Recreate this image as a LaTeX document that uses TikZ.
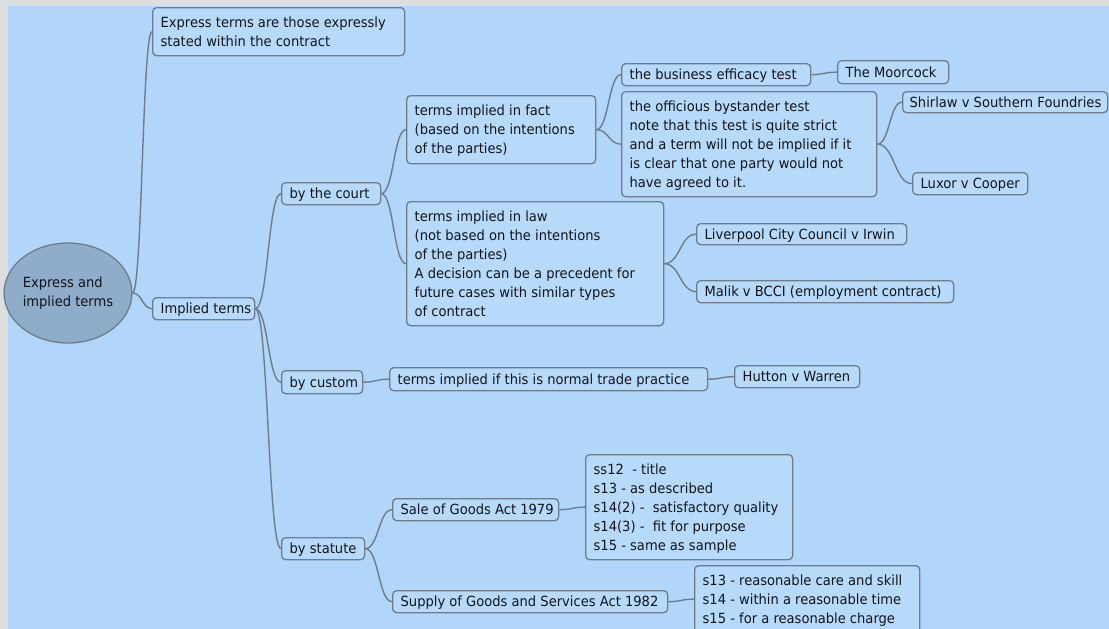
\documentclass[tikz,border=0pt]{standalone}
\usepackage{fontspec}
\setmainfont{DejaVu Sans}[FakeStretch=0.935]
\usetikzlibrary{shapes.geometric,calc}
\definecolor{bgblue}{RGB}{178,214,250}
\definecolor{bggray}{RGB}{222,222,222}
\definecolor{boxfill}{RGB}{184,218,250}
\definecolor{boxline}{RGB}{110,124,140}
\definecolor{rootfill}{RGB}{143,172,202}
\definecolor{txt}{RGB}{18,20,26}
\newcommand{\bx}[2]{\makebox[#1pt][l]{\raisebox{-5pt}[0pt][0pt]{\begin{tabular}{@{}l@{}}#2\end{tabular}}}}
\begin{document}
\begin{tikzpicture}[x=1pt,y=-1pt,
  box/.style={draw=boxline, fill=boxfill, rounded corners=4pt, line width=1.3pt,
    inner xsep=8pt, inner ysep=0pt, anchor=north west, text=txt,
    font=\fontsize{14pt}{19pt}\selectfont},
  rootnode/.style={ellipse, draw=boxline, fill=rootfill, line width=1.3pt,
    inner sep=0pt, minimum width=116pt, minimum height=100pt, text=txt,
    font=\fontsize{14pt}{19pt}\selectfont},
  conn/.style={draw=boxline, line width=1.4pt},
  mm/.style={to path={.. controls ($(\tikztostart)!0.5!(\tikztostart -| \tikztotarget)$)
      and ($(\tikztotarget)!0.5!(\tikztotarget -| \tikztostart)$) .. (\tikztotarget)}}]
\useasboundingbox (0,0) rectangle (1109,629);
\clip (0,0) rectangle (1109,629);
\fill[bggray] (0,0) rectangle (1109,629);
\fill[bgblue] (8,6) rectangle (1109,629);

\node[rootnode] (root) at (68,293) {\begin{tabular}{@{}l@{}}Express and\\implied terms\end{tabular}};

\node[box, minimum height=48pt] (express) at (152,7) {\bx{236}{Express terms are those expressly\\stated within the contract}};
\node[box, minimum height=22pt] (implied) at (152,297) {\bx{86}{Implied terms}};

\node[box, minimum height=22pt] (court) at (281,182) {\bx{83}{by the court}};
\node[box, minimum height=23pt] (custom) at (281,370) {\bx{65}{by custom}};
\node[box, minimum height=22pt] (statute) at (281,537) {\bx{67}{by statute}};

\node[box, minimum height=68pt] (fact) at (406,95) {\bx{173}{terms implied in fact\\(based on the intentions\\of the parties)}};
\node[box, minimum height=124pt] (law) at (406,201) {\bx{241}{terms implied in law\\(not based on the intentions\\of the parties)\\A decision can be a precedent for\\future cases with similar types\\of contract}};

\node[box, minimum height=22pt] (business) at (621,63) {\bx{173}{the business efficacy test}};
\node[box, minimum height=105pt] (officious) at (621,91) {\bx{239}{the officious bystander test\\note that this test is quite strict\\and a term will not be implied if it\\is clear that one party would not\\have agreed to it.}};

\node[box, minimum height=23pt] (moorcock) at (837,60) {\bx{95}{The Moorcock}};
\node[box, minimum height=21pt, inner xsep=7pt] (shirlaw) at (902,91) {\bx{191}{Shirlaw v Southern Foundries}};
\node[box, minimum height=22pt] (luxor) at (912,172) {\bx{99}{Luxor v Cooper}};

\node[box, minimum height=21pt] (liverpool) at (696,223) {\bx{194}{Liverpool City Council v Irwin}};
\node[box, minimum height=22pt] (malik) at (696,280) {\bx{241}{Malik v BCCI (employment contract)}};

\node[box, minimum height=23pt] (trade) at (389,367) {\bx{302}{terms implied if this is normal trade practice}};
\node[box, minimum height=22pt] (hutton) at (734,365) {\bx{109}{Hutton v Warren}};

\node[box, minimum height=22pt] (soga) at (392,498) {\bx{150}{Sale of Goods Act 1979}};
\node[box, minimum height=22pt] (sgsa) at (392,590) {\bx{259}{Supply of Goods and Services Act 1982}};
\node[box, minimum height=105pt] (sogalist) at (585,454) {\bx{191}{ss12\ \ - title\\s13 - as described\\s14(2) -\ \ satisfactory quality\\s14(3) -\ \ fit for purpose\\s15 - same as sample}};
\node[box, minimum height=67pt] (sgsalist) at (694,565) {\bx{209}{s13 - reasonable care and skill\\s14 - within a reasonable time\\s15 - for a reasonable charge}};

\draw[conn] (root.east) to[mm] (express.west);
\draw[conn] (root.east) to[mm] (implied.west);
\draw[conn] (implied.east) to[mm] (court.west);
\draw[conn] (implied.east) to[mm] (custom.west);
\draw[conn] (implied.east) to[mm] (statute.west);
\draw[conn] (court.east) to[mm] (fact.west);
\draw[conn] (court.east) to[mm] (law.west);
\draw[conn] (fact.east) to[mm] (business.west);
\draw[conn] (fact.east) to[mm] (officious.west);
\draw[conn] (business.east) to[mm] (moorcock.west);
\draw[conn] (officious.east) to[mm] (shirlaw.west);
\draw[conn] (officious.east) to[mm] (luxor.west);
\draw[conn] (law.east) to[mm] (liverpool.west);
\draw[conn] (law.east) to[mm] (malik.west);
\draw[conn] (custom.east) to[mm] (trade.west);
\draw[conn] (trade.east) to[mm] (hutton.west);
\draw[conn] (statute.east) to[mm] (soga.west);
\draw[conn] (statute.east) to[mm] (sgsa.west);
\draw[conn] (soga.east) to[mm] (sogalist.west);
\draw[conn] (sgsa.east) to[mm] (sgsalist.west);
\end{tikzpicture}
\end{document}
